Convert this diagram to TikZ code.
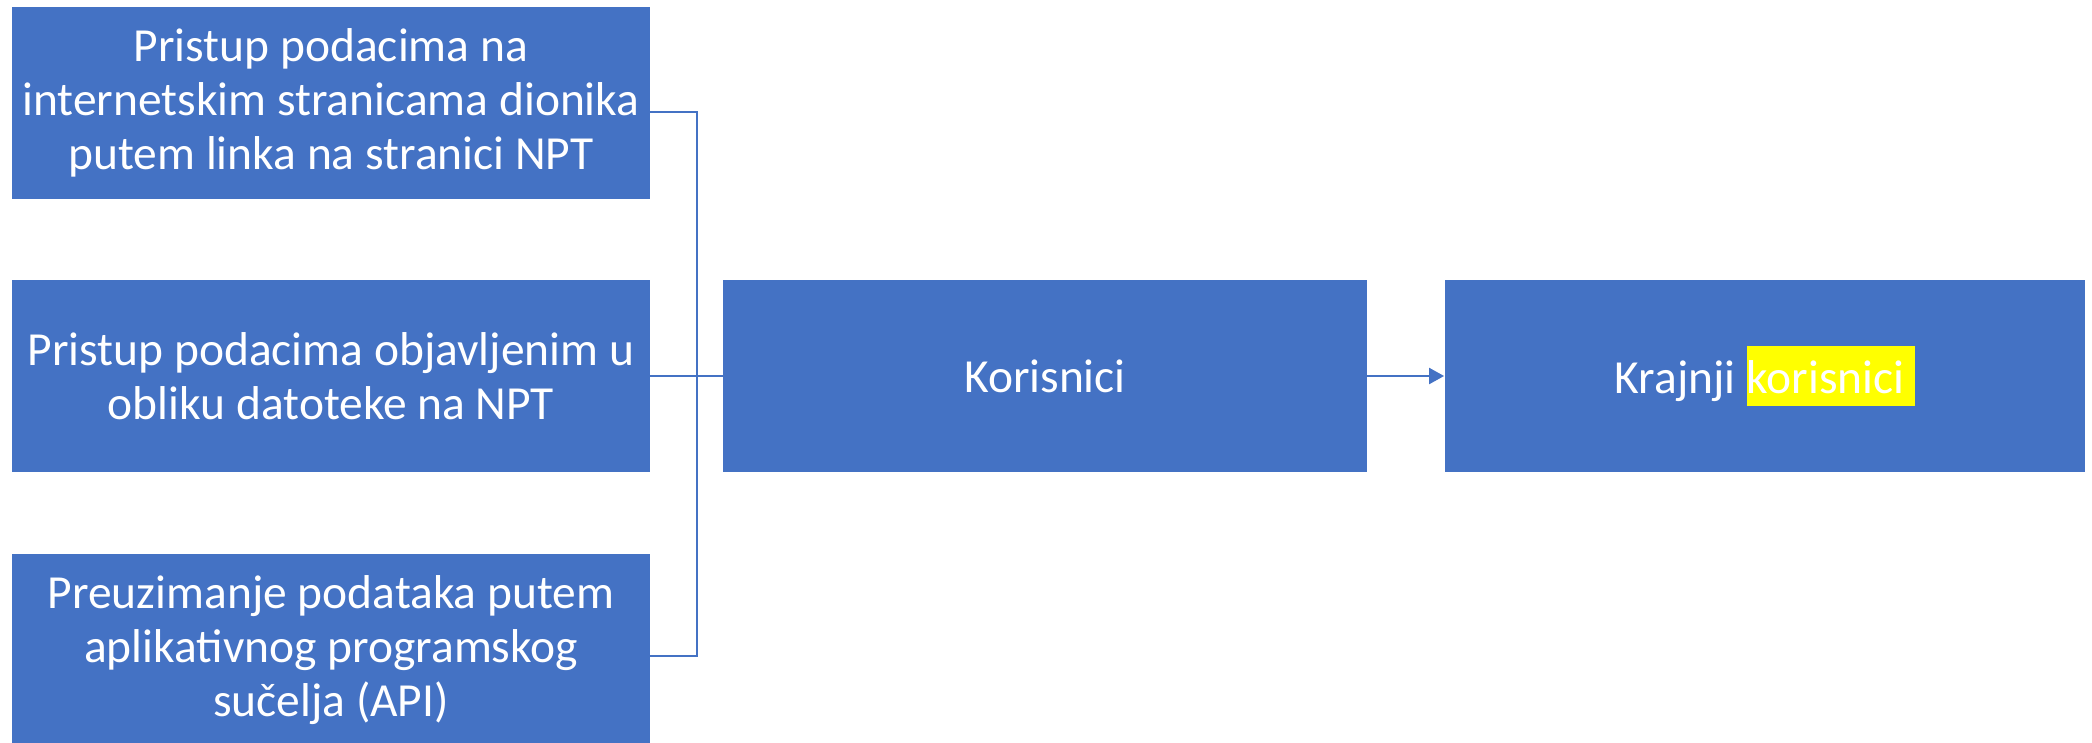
\documentclass[tikz,border=0pt]{standalone}
\usepackage{fontspec}
\setmainfont{Carlito}
\usetikzlibrary{arrows.meta}
\definecolor{plava}{HTML}{4472C4}
\definecolor{zuta}{HTML}{FFFF00}
\tikzset{
  kutija/.style={fill=plava, text=white, align=center, inner sep=0pt,
    minimum height=1.92cm, font=\fontsize{13.5}{15.4}\selectfont},
  veza/.style={draw=plava, line width=0.5pt}
}
\setlength{\fboxsep}{0pt}
\begin{document}
\begin{tikzpicture}[x=0.01cm, y=-0.01cm]
\useasboundingbox (0,0) rectangle (2092,742);

% Načini pristupa podacima
\node[kutija, minimum width=6.37cm] (pristup1) at (331,103)
  {Pristup podacima na\\internetskim stranicama dionika\\putem linka na stranici NPT};
\node[kutija, minimum width=6.37cm] (pristup2) at (331,376)
  {Pristup podacima objavljenim u\\obliku datoteke na NPT};
\node[kutija, minimum width=6.37cm] (pristup3) at (331,650)
  {Preuzimanje podataka putem\\aplikativnog programskog\\sučelja (API)};

% Korisnici
\node[kutija, minimum width=6.43cm] (korisnici) at (1045,376) {Korisnici};
\node[kutija, minimum width=6.40cm] (krajnji) at (1765,376)
  {Krajnji \colorbox{zuta}{\rule[-0.12cm]{0pt}{0.59cm}korisnici\ }};

% Spojnice
\coordinate (spoj) at (697,376);
\draw[veza] ([yshift=-0.09cm]pristup1.east) -| (spoj);
\draw[veza] ([yshift=-0.06cm]pristup3.east) -| (spoj);
\draw[veza] (pristup2.east) -- (korisnici.west);
\draw[veza, line width=0.6pt, -{Triangle[length=0.15cm, width=0.16cm]}]
  (korisnici.east) -- (krajnji.west);
\end{tikzpicture}
\end{document}
